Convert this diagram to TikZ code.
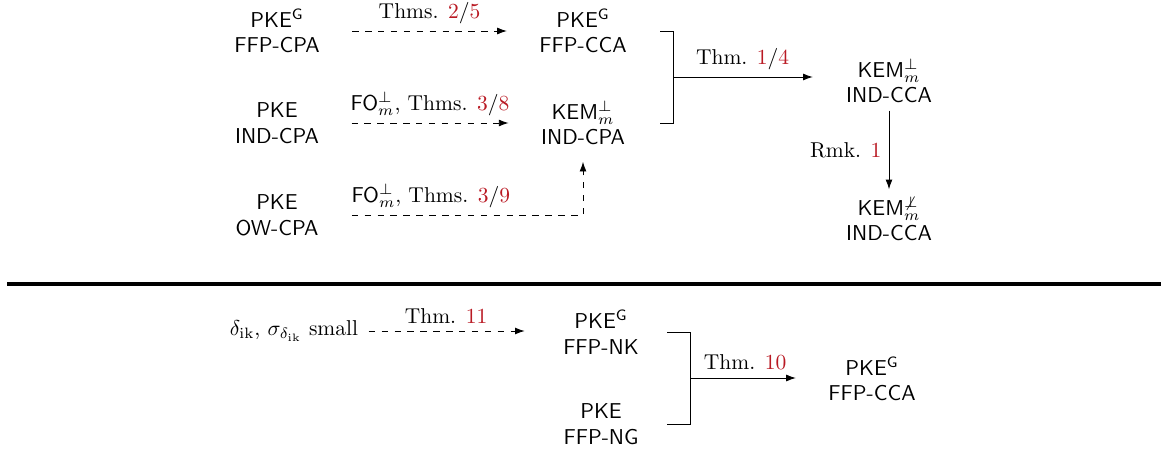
\documentclass[tikz,border=0pt]{standalone}
\usetikzlibrary{arrows.meta,calc}
\definecolor{refred}{RGB}{185,25,35}
\newcommand{\rf}[1]{\textcolor{refred}{#1}}
\begin{document}
\begin{tikzpicture}[x=0.4651pt,y=-0.4651pt,
  box/.style={align=center,font=\sffamily},
  arr/.style={-{Latex[length=4.5pt,width=3.2pt]}},
  dsh/.style={arr,dashed}]
\useasboundingbox (0,0) rectangle (1166,455);
% top part
\node[box] (A1) at (277,31) {PKE$^{\mathsf{G}}$\\FFP-CPA};
\node[box] (A2) at (277,123) {PKE\\IND-CPA};
\node[box] (A3) at (277,215) {PKE\\OW-CPA};
\node[box] (B1) at (583,31) {PKE$^{\mathsf{G}}$\\FFP-CCA};
\node[box] (B2) at (583,123) {KEM$^{\perp}_{m}$\\IND-CPA};
\node[box] (C1) at (889,81) {KEM$^{\perp}_{m}$\\IND-CCA};
\node[box] (C2) at (889,219) {KEM$^{\not\perp}_{m}$\\IND-CCA};
\draw[dsh,shorten <=11.6pt,shorten >=11.6pt] (A1) -- (B1)
  node[midway,above] {Thms. \rf{2}/\rf{5}};
\draw[dsh,shorten <=11.6pt,shorten >=11.6pt] (A2) -- (B2)
  node[midway,above] {\textsf{FO}$^{\perp}_{m}$, Thms. \rf{3}/\rf{8}};
\draw[dsh,shorten <=12pt,shorten >=4.2pt] (A3.east) -| (B2.south)
  node[pos=0.204,above] {\textsf{FO}$^{\perp}_{m}$, Thms. \rf{3}/\rf{9}};
\coordinate (bt) at ($(B1.east)+(26,0)$);
\coordinate (bb) at (bt |- B2.east);
\draw (bt) -- ++(13,0) |- (bb);
\coordinate (bm) at ($(bt)!0.5!(bb)+(13,0)$);
\draw[arr,shorten >=12pt] (bm) -- (bm -| C1.west)
  node[pos=0.42,above] {Thm. \rf{1}/\rf{4}};
\draw[arr] (C1.south) -- (C2.north)
  node[midway,left] {Rmk. \rf{1}};
% separator
\draw[line width=1.4pt] (7,284) -- (1161,284);
% bottom part
\node (D0) at (294,331) {$\delta_{\mathrm{ik}}$, $\sigma_{\delta_{\mathrm{ik}}}$ small};
\node[box] (E1) at (601,332) {PKE$^{\mathsf{G}}$\\FFP-NK};
\node[box] (E2) at (601,424) {PKE\\FFP-NG};
\node[box] (E3) at (872,379) {PKE$^{\mathsf{G}}$\\FFP-CCA};
\draw[dsh,shorten <=1.4pt,shorten >=14.4pt] (D0.east) -- (D0.east -| E1.west)
  node[pos=0.423,above] {Thm. \rf{11}};
\coordinate (ct) at ($(E1.east)+(21,0)$);
\coordinate (cb) at (ct |- E2.east);
\draw (ct) -- ++(23,0) |- (cb);
\coordinate (cm) at ($(ct)!0.5!(cb)+(23,0)$);
\draw[arr,shorten >=11.6pt] (cm) -- (cm -| E3.west)
  node[pos=0.42,above] {Thm. \rf{10}};
\end{tikzpicture}
\end{document}
